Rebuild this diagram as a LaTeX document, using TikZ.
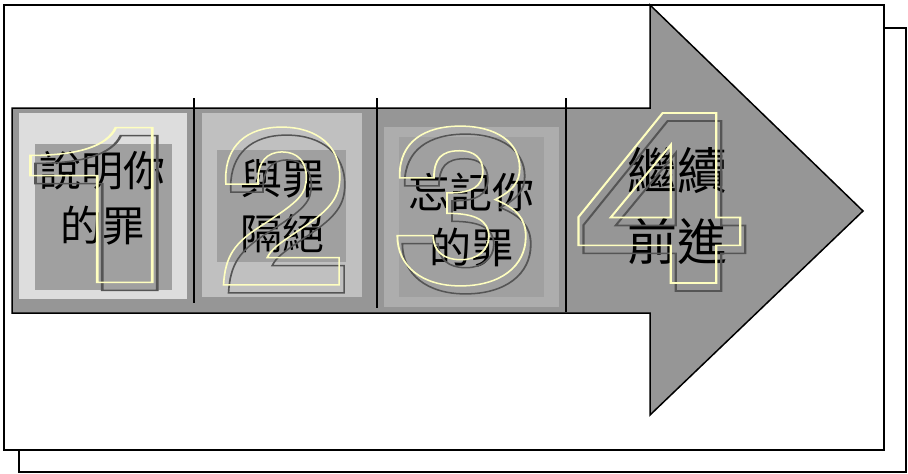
\documentclass[tikz,border=0pt]{standalone}
\usepackage{fontspec}
\setmainfont{Noto Sans CJK TC}
\newfontfamily\digitfont{TeX Gyre Heros}
\usetikzlibrary{positioning}
\definecolor{arrowgray}{RGB}{150,150,150}
\definecolor{boxone}{RGB}{221,221,221}
\definecolor{boxtwo}{RGB}{192,192,192}
\definecolor{boxthree}{RGB}{173,173,173}
\definecolor{boxin}{RGB}{160,160,160}
\definecolor{digitline}{RGB}{255,255,192}
\definecolor{digitshade}{RGB}{85,85,85}

% hollow digit: stroke only, no fill
\newcommand{\outlinedigit}[2]{\textcolor{#1}{\special{pdf:code 1 Tr 1.5 w}#2\special{pdf:code 0 Tr}}}

\begin{document}
\begin{tikzpicture}[x=1pt, y=-1pt,
    panel/.style={inner sep=0, outer sep=0, fill=#1},
    steptext/.style={align=center, inner sep=0, font=\fontsize{42}{55}\selectfont},
    bignum/.style={inner sep=0, font=\digitfont\bfseries\fontsize{218}{218}\selectfont},
    divider/.style={line width=1.5pt}]
  \useasboundingbox (0,0) rectangle (908,474);
  % frames
  \draw[line width=1.2pt, fill=white] (19,28) rectangle (906,472);
  \draw[line width=1.2pt, fill=white] (4,5) rectangle (884,450);
  % arrow
  \draw[line width=1.5pt, fill=arrowgray]
    (12,108) -- (650,108) -- (650,5) -- (863,211) -- (650,415) -- (650,313) -- (12,313) -- cycle;
  % panels
  \node[panel=boxone, minimum width=168, minimum height=186] (p1) at (103,206) {};
  \node[panel=boxin, minimum width=137, minimum height=146] (q1) at (103.5,217) {};
  \node[panel=boxtwo, minimum width=160, minimum height=184] (p2) at (282,205) {};
  \node[panel=boxin, minimum width=129, minimum height=112] (q2) at (281.5,206) {};
  \node[panel=boxthree, minimum width=175, minimum height=180] (p3) at (471.5,217) {};
  \node[panel=boxin, minimum width=145, minimum height=160] (q3) at (471.5,217) {};
  % dividers
  \draw[divider] (194,98) -- (194,303);
  \draw[divider] (377,98) -- (377,308);
  \draw[divider] (566,98) -- (566,312);
  % texts
  \node[steptext] (t1) at (102,198) {說明你\\的罪};
  \node[steptext] (t2) at (282,206) {與罪\\隔絕};
  \node[steptext] (t3) at (471,220) {忘記你\\的罪};
  \node[steptext, font=\fontsize{50}{71}\selectfont] (t4) at (677,206) {繼續\\前進};
  % numbers
  \foreach \k/\px/\py/\sx/\sy in {1/113/205/1.8/1, 2/283/206/1.1/1, 3/463/206/1.21/1, 4/661/198/1.49/1.1} {
    \node[bignum, xscale=\sx, yscale=\sy] (s\k) at (\px+5,\py+8) {\outlinedigit{digitshade}{\k}};
    \node[bignum, xscale=\sx, yscale=\sy] (n\k) at (\px,\py) {\outlinedigit{digitline}{\k}};
  }
\end{tikzpicture}
\end{document}
